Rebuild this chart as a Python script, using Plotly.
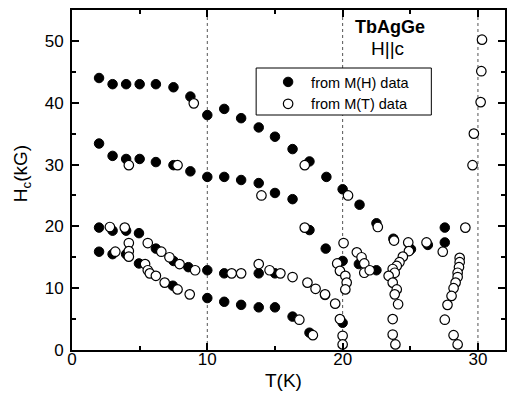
import plotly.graph_objects as go

# ---- data: from M(H) data (filled circles) ----
T_mh = [2.0, 3.0, 4.0, 5.0, 6.2, 7.5, 8.75, 10.0, 11.25, 12.5, 13.8, 15.0, 16.3, 17.55, 18.8, 20.0, 21.25, 22.5, 23.75, 25.05, 26.3, 27.55, 27.55,
        2.0, 3.0, 4.0, 5.0, 6.2, 7.5, 8.75, 10.0, 11.25, 12.5, 13.8, 15.0, 16.3, 17.55, 18.75, 20.0, 21.2, 22.5,
        2.0, 3.0, 4.0, 4.95, 6.2, 7.5, 8.6, 10.0, 11.25, 13.8, 15.0, 18.7, 20.0,
        2.0, 3.0, 4.0, 4.95, 7.45, 10.0, 11.25, 12.5, 13.8, 15.0, 16.3, 17.55]
H_mh = [44.0, 43.0, 43.0, 43.0, 43.0, 42.5, 41.0, 38.0, 39.0, 37.5, 36.0, 34.5, 32.5, 30.5, 28.0, 26.0, 23.5, 20.5, 18.0, 16.3, 17.0, 19.8, 17.4,
        33.4, 31.4, 30.9, 30.9, 30.4, 29.9, 28.9, 28.0, 28.0, 27.5, 27.0, 25.4, 24.4, 19.4, 16.4, 14.4, 13.9, 12.9,
        19.8, 19.3, 19.3, 18.9, 16.4, 14.4, 13.4, 12.9, 12.4, 12.4, 12.4, 8.9, 4.4,
        15.9, 15.5, 15.5, 14.0, 10.4, 8.4, 7.8, 7.3, 6.9, 6.9, 5.4, 2.8]

# ---- data: from M(T) data (open circles) ----
T_mt = [9.0, 17.2, 20.4, 22.6, 23.8, 24.85, 26.2, 29.07,
        29.6, 29.7, 30.2, 30.25, 30.3,
        4.2, 7.8, 14.0, 17.2, 20.07,
        2.8, 3.9, 4.2, 5.6, 6.6, 7.2, 7.95, 9.1, 11.8, 12.5, 13.8, 14.6, 15.4, 16.3, 17.4, 18.0, 18.7, 19.45, 19.8, 20.0, 20.0,
        3.2, 4.2, 4.2, 5.4, 5.6, 5.75, 6.2, 6.85, 7.8, 8.7, 16.8, 17.8,
        19.6, 19.8, 20.2, 20.3, 20.2,
        21.05, 21.4, 21.6, 21.6, 22.0,
        24.9, 24.45, 24.2, 24.0, 23.7, 23.85, 23.4, 23.7, 24.0, 23.85, 24.1, 23.7, 23.7, 23.9,
        27.4, 28.65, 28.65, 28.6, 28.5, 28.5, 28.35, 28.2, 28.05, 27.75, 27.55, 28.2, 28.5]
H_mt = [39.9, 29.9, 25.0, 19.9, 17.7, 17.4, 17.4, 19.8,
        29.9, 35.0, 40.1, 45.1, 50.2,
        29.9, 29.9, 25.0, 19.8, 17.3,
        19.9, 19.8, 17.3, 17.3, 15.9, 15.0, 13.9, 12.9, 12.4, 12.4, 13.9, 12.9, 12.4, 11.8, 10.9, 9.9, 9.0, 7.5, 5.0, 2.3, 0.9,
        15.9, 16.0, 15.1, 13.9, 12.9, 12.4, 12.0, 10.9, 9.8, 9.0, 4.9, 2.4,
        14.0, 12.8, 12.0, 10.9, 9.8,
        15.8, 15.0, 14.0, 12.5, 12.9,
        16.0, 15.1, 14.2, 13.6, 13.1, 12.5, 12.0, 10.9, 9.8, 9.0, 7.4, 5.0, 2.5, 0.9,
        15.9, 14.9, 14.2, 13.4, 12.5, 11.8, 10.9, 10.0, 8.75, 7.3, 4.9, 2.4, 0.9]

x_ticks = [0, 10, 20, 30]
y_ticks = [0, 10, 20, 30, 40, 50]
guide_T = [10, 20, 30]

FONT = "Liberation Sans, Arial, sans-serif"
W, H = 507, 398
ML, MR, MT, MB = 72, 0, 10, 48
PW, PH = W - ML - MR, H - MT - MB

def px(xp):
    return (xp - ML) / PW

def py(yp):
    return (H - MB - yp) / PH

fig = go.Figure()
fig.add_trace(go.Scatter(x=T_mh, y=H_mh, mode="markers", name="from M(H) data",
                         marker=dict(symbol="circle", size=9.5, color="black",
                                     line=dict(color="black", width=1))))
fig.add_trace(go.Scatter(x=T_mt, y=H_mt, mode="markers", name="from M(T) data",
                         marker=dict(symbol="circle", size=9.5, color="white",
                                     line=dict(color="black", width=1.2))))

shapes = []
for t in guide_T:
    shapes.append(dict(type="line", xref="x", yref="paper", x0=t, x1=t, y0=0, y1=1,
                       line=dict(color="#555", width=1, dash="dot"), layer="below"))
# legend frame
shapes.append(dict(type="rect", xref="paper", yref="paper",
                   x0=px(257), x1=px(433), y0=py(115), y1=py(68),
                   line=dict(color="black", width=1), fillcolor="white", layer="below"))

axis_common = dict(showline=True, linewidth=2, linecolor="black", mirror="ticks",
                   ticks="inside", ticklen=7, tickwidth=1.5, tickcolor="black",
                   showgrid=False, zeroline=False,
                   tickfont=dict(family=FONT, size=17, color="black"))

fig.update_layout(
    width=W, height=H,
    margin=dict(l=ML, r=MR, t=MT, b=MB, pad=0),
    paper_bgcolor="white", plot_bgcolor="white",
    xaxis=dict(range=[0, 32], tickvals=x_ticks,
               minor=dict(dtick=5, tick0=0, ticklen=4, tickwidth=1.5, tickcolor="black", ticks="inside"),
               ticklabelstandoff=-7, **axis_common),
    yaxis=dict(range=[0, 55], tickvals=y_ticks,
               minor=dict(dtick=5, tick0=0, ticklen=4, tickwidth=1.5, tickcolor="black", ticks="inside"),
               ticklabelstandoff=3, **axis_common),
    showlegend=True,
    legend=dict(x=px(266), y=py(66), xanchor="left", yanchor="top",
                bgcolor="rgba(0,0,0,0)", borderwidth=0, itemwidth=36,
                font=dict(family=FONT, size=14.5, color="black"), tracegroupgap=0),
    shapes=shapes,
    annotations=[
        dict(text="<b>TbAgGe</b>", x=px(391), y=py(27), xref="paper", yref="paper",
             xanchor="center", yanchor="middle",
             showarrow=False, font=dict(family=FONT, size=18, color="black")),
        dict(text="H||c", x=px(389), y=py(48), xref="paper", yref="paper",
             xanchor="center", yanchor="middle",
             showarrow=False, font=dict(family=FONT, size=19, color="black")),
        dict(text="T(K)", x=px(284), y=py(381), xref="paper", yref="paper",
             xanchor="center", yanchor="middle",
             showarrow=False, font=dict(family=FONT, size=19, color="black")),
        dict(text="H<sub>c</sub>(kG)", x=px(22), y=py(174), xref="paper", yref="paper",
             xanchor="center", yanchor="middle",
             showarrow=False, textangle=-90, font=dict(family=FONT, size=19, color="black")),
    ],
)

fig.write_html("out.html")
